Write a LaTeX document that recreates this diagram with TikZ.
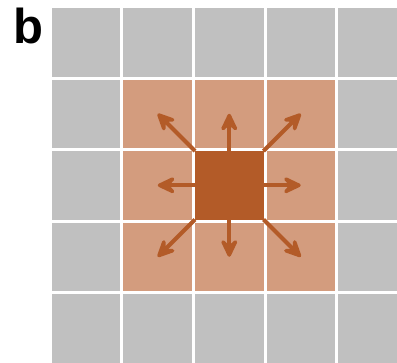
\documentclass[tikz,border=0pt]{standalone}
\usepackage{fontspec}
\setmainfont{Liberation Sans}
\usetikzlibrary{arrows.meta}

\definecolor{cellgray}{HTML}{C0C0C0}
\definecolor{nearorange}{HTML}{D39C7E}
\definecolor{centreorange}{HTML}{B35B28}

\tikzset{
  cellbox/.style={minimum size=0.958cm, inner sep=0pt, outer sep=0pt, fill=cellgray},
  spread/.style={centreorange, line width=1.6pt,
    -{Stealth[length=9.5pt, width=9pt, inset=4pt, round]}}
}

\begin{document}
\begin{tikzpicture}[x=1cm, y=1cm]
      \useasboundingbox (-0.727,0.112) rectangle (4.825,-4.951);
      % \draw[help lines, gray!50, very thin] (0,0) grid (5,-5);

      % grid of cells
      \foreach \i in {0,...,4}
        \foreach \j in {0,...,4}
          \node[cellbox] (c-\i-\j) at (\i+0.479,-\j-0.479) {};

      % neighbours of the centre cell
      \foreach \i/\j in {1/1,2/1,3/1,1/2,3/2,1/3,2/3,3/3}
        \node[cellbox, fill=nearorange] (c-\i-\j) at (\i+0.479,-\j-0.479) {};

      \node[cellbox, fill=centreorange] (c-2-2) at (2.479,-2.479) {};

      \draw[spread] (c-2-2.north west) -- (c-1-1.center);
      \draw[spread] (c-2-2.north) -- (c-2-1.center);
      \draw[spread] (c-2-2.north east) -- (c-3-1.center);
      \draw[spread] (c-2-2.west) -- (c-1-2.center);
      \draw[spread] (c-2-2.east) -- (c-3-2.center);
      \draw[spread] (c-2-2.south west) -- (c-1-3.center);
      \draw[spread] (c-2-2.south) -- (c-2-3.center);
      \draw[spread] (c-2-2.south east) -- (c-3-3.center);

      \node[anchor=base west, inner sep=0pt, font=\fontsize{19.5}{20}\selectfont\bfseries] (label) at (-0.54,-0.494) {b};
    \end{tikzpicture}
\end{document}
